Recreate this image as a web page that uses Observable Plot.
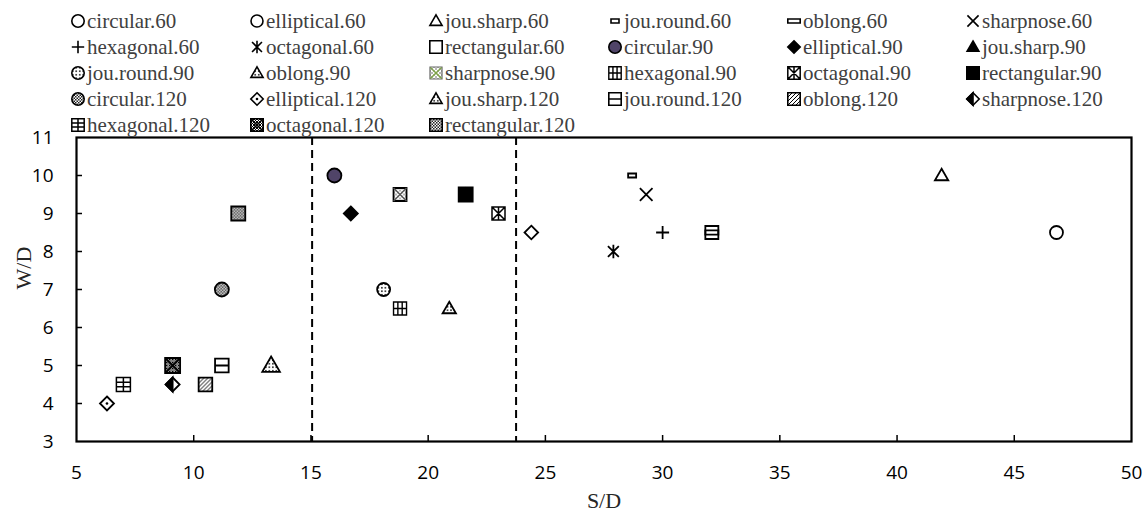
<!DOCTYPE html>
<html><head><meta charset="utf-8">
<script src="https://cdn.jsdelivr.net/npm/d3@7"></script>
<script src="https://cdn.jsdelivr.net/npm/@observablehq/plot@0.6"></script>
<style>
html,body{margin:0;padding:0;background:#fff}
body{width:1148px;height:521px;overflow:hidden;position:relative}
#legend{position:absolute;left:0;top:0;width:1148px;height:140px;z-index:2;pointer-events:none}
.item{position:absolute;height:22px;display:flex;align-items:center;font-family:"Liberation Serif","Times New Roman",serif;font-size:21px;color:#404040;white-space:nowrap;line-height:1}
.item svg{margin-right:1px;flex:none}
#chart{position:absolute;left:0;top:0}
</style></head><body>
<svg width="0" height="0" style="position:absolute">
<defs>
<pattern id="pDots" width="3.5" height="3.5" patternUnits="userSpaceOnUse"><rect width="3.5" height="3.5" fill="#fff"/><circle cx="1.75" cy="1.75" r="0.85" fill="#000"/></pattern>
<pattern id="pChecker" width="3" height="3" patternUnits="userSpaceOnUse"><rect width="3" height="3" fill="#fff"/><rect width="1.5" height="1.5" fill="#222"/><rect x="1.5" y="1.5" width="1.5" height="1.5" fill="#222"/></pattern>
<pattern id="pDiag" width="4" height="4" patternUnits="userSpaceOnUse"><rect width="4" height="4" fill="#fff"/><path d="M-1,5 L5,-1 M-1,1 L1,-1 M3,5 L5,3" stroke="#000" stroke-width="1"/></pattern>
<pattern id="pLightX" width="4" height="4" patternUnits="userSpaceOnUse"><rect width="4" height="4" fill="#fff"/><path d="M0,0 L4,4 M4,0 L0,4" stroke="#9a9a9a" stroke-width="0.7"/></pattern>
<pattern id="pDarkX" width="3" height="3" patternUnits="userSpaceOnUse"><rect width="3" height="3" fill="#fff"/><path d="M0,0 L3,3 M3,0 L0,3" stroke="#000" stroke-width="1"/></pattern>
</defs></svg>
<div id="chart"></div>
<div id="legend"></div>
<script>
// ---------------- data ----------------
const series = ["circular.60","elliptical.60","jou.sharp.60","jou.round.60","oblong.60","sharpnose.60",
  "hexagonal.60","octagonal.60","rectangular.60","circular.90","elliptical.90","jou.sharp.90",
  "jou.round.90","oblong.90","sharpnose.90","hexagonal.90","octagonal.90","rectangular.90",
  "circular.120","elliptical.120","jou.sharp.120","jou.round.120","oblong.120","sharpnose.120",
  "hexagonal.120","octagonal.120","rectangular.120"];
const sdValues = [46.8, 24.4, 41.9, 28.7, 32.1, 29.3, 30.0, 27.9, 32.1,
  16.0, 16.7, 21.6, 18.1, 20.9, 18.8, 18.8, 23.0, 21.6,
  11.2, 6.3, 13.3, 11.2, 10.5, 9.1, 7.0, 9.1, 11.9];
const wdValues = [8.5, 8.5, 10, 10, 8.5, 9.5, 8.5, 8, 8.5,
  10, 9, 9.5, 7, 6.5, 9.5, 6.5, 9, 9.5,
  7, 4, 5, 5, 4.5, 4.5, 4.5, 5, 9];
const xTicks = [5, 10, 15, 20, 25, 30, 35, 40, 45, 50];
const yTicks = [3, 4, 5, 6, 7, 8, 9, 10, 11];
const dividers = [15.05, 23.75];
const xLabel = "S/D", yLabel = "W/D";

// ---------------- symbols ----------------
function sym(fn){ return {draw(c, size){ fn(c, Math.sqrt(size / Math.PI)); }}; }
const CIRC = sym((c,h)=>{c.moveTo(h,0); c.arc(0,0,h,0,2*Math.PI); c.closePath();});
const SQ = sym((c,h)=>c.rect(-h,-h,2*h,2*h));
const DIA = sym((c,h)=>{c.moveTo(0,-h);c.lineTo(h,0);c.lineTo(0,h);c.lineTo(-h,0);c.closePath();});
const LHALF = sym((c,h)=>{c.moveTo(0,-h);c.lineTo(0,h);c.lineTo(-h,0);c.closePath();});
const TRI = sym((c,h)=>{c.moveTo(0,-h);c.lineTo(0.98*h,0.7*h);c.lineTo(-0.98*h,0.7*h);c.closePath();});
const TIMES = sym((c,h)=>{const k=h*0.9;c.moveTo(-k,-k);c.lineTo(k,k);c.moveTo(k,-k);c.lineTo(-k,k);});
const PLUS = sym((c,h)=>{c.moveTo(-h,0);c.lineTo(h,0);c.moveTo(0,-h);c.lineTo(0,h);});
const ASTER = sym((c,h)=>{const k=h*0.8;c.moveTo(-k,-k);c.lineTo(k,k);c.moveTo(k,-k);c.lineTo(-k,k);c.moveTo(0,-h);c.lineTo(0,h);});
const SMALLRECT = sym((c,h)=>c.rect(-h,-h*0.5,2*h,h));
const FLATRECT = sym((c,h)=>c.rect(-h,-h*0.32,2*h,h*0.64));
const SQX = sym((c,h)=>{c.rect(-h,-h,2*h,2*h);c.moveTo(-h,-h);c.lineTo(h,h);c.moveTo(h,-h);c.lineTo(-h,h);});
const SQXV = sym((c,h)=>{c.rect(-h,-h,2*h,2*h);c.moveTo(-h,-h);c.lineTo(h,h);c.moveTo(h,-h);c.lineTo(-h,h);c.moveTo(0,-h);c.lineTo(0,h);});
const SQH = sym((c,h)=>{c.rect(-h,-h,2*h,2*h);c.moveTo(-h,0);c.lineTo(h,0);});
const GRIDV = sym((c,h)=>{c.rect(-h,-h,2*h,2*h);c.moveTo(-h/3,-h);c.lineTo(-h/3,h);c.moveTo(h/3,-h);c.lineTo(h/3,h);c.moveTo(-h,0);c.lineTo(h,0);});
const GRIDH = sym((c,h)=>{c.rect(-h,-h,2*h,2*h);c.moveTo(-h,-h/3);c.lineTo(h,-h/3);c.moveTo(-h,h/3);c.lineTo(h,h/3);c.moveTo(0,-h);c.lineTo(0,h);});

const K = "#000";
// marker styles (layers); the legend may override a few
const styles = {
  "circular.60":   [{s:CIRC, h:6.5, fill:"none"}],
  "elliptical.60": [{s:DIA, h:6.8, fill:"none"}],
  "jou.sharp.60":  [{s:TRI, h:6.8, fill:"none"}],
  "jou.round.60":  [{s:SMALLRECT, h:4, fill:"none"}],
  "oblong.60":     [{s:FLATRECT, h:6.5, fill:"none"}],
  "sharpnose.60":  [{s:TIMES, h:7, fill:"none"}],
  "hexagonal.60":  [{s:PLUS, h:6.5, fill:"none"}],
  "octagonal.60":  [{s:ASTER, h:6.8, fill:"none"}],
  "rectangular.60":[{s:SQ, h:6.5, fill:"none"}],
  "circular.90":   [{s:CIRC, h:7, fill:"#504468"}],
  "elliptical.90": [{s:DIA, h:7, fill:K}],
  "jou.sharp.90":  [{s:TRI, h:6, fill:K}],
  "jou.round.90":  [{s:CIRC, h:6.5, fill:"url(#pDots)"}],
  "oblong.90":     [{s:TRI, h:6.8, fill:"url(#pDots)"}],
  "sharpnose.90":  [{s:SQ, h:6.5, fill:"url(#pLightX)"}, {s:TIMES, h:7.2, fill:"none", stroke:"#555", sw:1.3}],
  "hexagonal.90":  [{s:GRIDV, h:6.5, fill:"#fff", sw:1.4}],
  "octagonal.90":  [{s:SQXV, h:6.5, fill:"#fff", sw:1.5}],
  "rectangular.90":[{s:SQ, h:7, fill:K}],
  "circular.120":  [{s:CIRC, h:7, fill:"url(#pChecker)"}],
  "elliptical.120":[{s:DIA, h:7, fill:"#fff"}, {s:CIRC, h:1.3, fill:K, stroke:"none"}],
  "jou.sharp.120": [{s:TRI, h:9, fill:"url(#pDots)"}],
  "jou.round.120": [{s:SQH, h:6.8, fill:"#fff"}],
  "oblong.120":    [{s:SQ, h:6.8, fill:"url(#pDiag)"}],
  "sharpnose.120": [{s:DIA, h:7, fill:"#fff"}, {s:LHALF, h:7, fill:K}],
  "hexagonal.120": [{s:GRIDH, h:7, fill:"#fff", sw:1.5}],
  "octagonal.120": [{s:SQX, h:7.5, fill:"url(#pDarkX)"}],
  "rectangular.120":[{s:SQ, h:7, fill:"url(#pChecker)"}]
};
const legendOverride = {
  "elliptical.60": [{s:CIRC, h:6, fill:"none"}],
  "sharpnose.90": [{s:SQ, h:6, fill:"url(#pLightX)", stroke:"#666", sw:1.2}, {s:TIMES, h:6.6, fill:"none", stroke:"#7fa24a", sw:1.5}]
};

// ---------------- chart ----------------
const W = 1148, H = 521, mL = 76, mR = 17, mT = 137, mB = 80;
const pw = W - mL - mR, ph = H - mT - mB;
const rows = series.map((name, i) => ({name, sd: sdValues[i], wd: wdValues[i]}));

const dotMarks = [];
rows.forEach(r => {
  styles[r.name].forEach(L => {
    dotMarks.push(Plot.dot([r], {x: "sd", y: "wd", symbol: L.s, r: L.h,
      fill: L.fill, stroke: L.stroke || K, strokeWidth: L.sw || 1.8}));
  });
});

const chart = Plot.plot({
  width: W, height: H, marginLeft: mL, marginRight: mR, marginTop: mT, marginBottom: mB,
  x: {domain: [5, 50]}, y: {domain: [3, 11]},
  style: {fontFamily: "'Open Sans', sans-serif", fontSize: "19px", color: "#000", background: "transparent"},
  marks: [
    Plot.ruleX(xTicks.slice(1, -1), {x: d => d, insetTop: ph - 6, stroke: K, strokeWidth: 1.5}),
    Plot.ruleY(yTicks.slice(1, -1), {y: d => d, insetRight: pw - 6, stroke: K, strokeWidth: 1.5}),
    Plot.ruleX(dividers, {x: d => d, stroke: K, strokeWidth: 2, strokeDasharray: "8,5"}),
    Plot.frame({stroke: K, strokeWidth: 2.2}),
    Plot.axisX({ticks: xTicks, tickSize: 0, tickPadding: 24, tickFormat: d => d, label: null, fill: K}),
    Plot.axisY({ticks: yTicks, tickSize: 0, tickPadding: 23, tickFormat: d => d, label: null, fill: K}),
    ...dotMarks,
    Plot.text([xLabel], {frameAnchor: "bottom", dy: 59, text: d => d, fontFamily: "'Liberation Serif', serif", fontSize: 22, fill: "#262626", lineAnchor: "middle"}),
    Plot.text([yLabel], {frameAnchor: "left", dx: -53, rotate: -90, text: d => d, fontFamily: "'Liberation Serif', serif", fontSize: 22, fill: "#262626", lineAnchor: "middle"})
  ]
});
document.getElementById("chart").appendChild(chart);

// ---------------- legend ----------------
const legend = document.getElementById("legend");
series.forEach((name, i) => {
  const col = i % 6, row = Math.floor(i / 6);
  const item = document.createElement("div");
  item.className = "item";
  item.style.left = (70 + 179 * col) + "px";
  item.style.top = (10 + 26 * row) + "px";
  const layers = legendOverride[name] || styles[name];
  const svg = d3.create("svg").attr("width", 16).attr("height", 16).attr("viewBox", "-8 -8 16 16");
  layers.forEach(L => {
    const h = Math.min(L.h, 6.2);
    svg.append("path").attr("d", d3.symbol(L.s, Math.PI * h * h)())
      .attr("fill", L.fill).attr("stroke", L.stroke || K).attr("stroke-width", L.sw ? Math.min(L.sw, 1.6) : 1.6);
  });
  item.appendChild(svg.node());
  const t = document.createElement("span");
  t.textContent = name;
  item.appendChild(t);
  legend.appendChild(item);
});
</script>
</body></html>
